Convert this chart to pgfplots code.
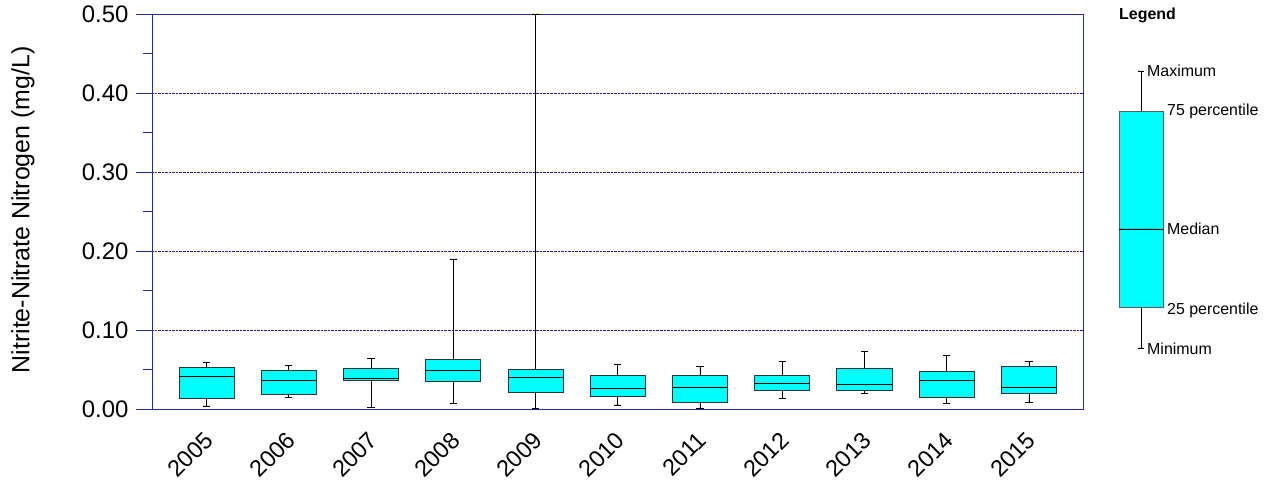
\documentclass[border=0pt]{standalone}
\usepackage{fontspec}
\setmainfont{Liberation Sans}
\usepackage{pgfplots}
\pgfplotsset{compat=1.18}
\usepgfplotslibrary{statistics}
\definecolor{axnavy}{RGB}{40,40,150}
\definecolor{gridnavy}{RGB}{30,30,140}
\definecolor{boxcyan}{RGB}{0,255,255}
\definecolor{boxedge}{RGB}{50,50,50}
\pgfplotsset{
  mybox/.style={draw=boxedge, fill=boxcyan, line width=0.9pt, solid},
}
\begin{document}
\begin{tikzpicture}
\useasboundingbox (0bp,0bp) rectangle (1275bp,481bp);
\begin{axis}[
  at={(152bp,72bp)}, anchor=south west,
  scale only axis, width=931bp, height=395bp,
  xmin=-0.663, xmax=10.657, ymin=0, ymax=0.5,
  axis line style={axnavy, line width=0.9pt},
  xtick={0,1,2,3,4,5,6,7,8,9,10},
  xticklabels={2005,2006,2007,2008,2009,2010,2011,2012,2013,2014,2015},
  major x tick style={draw=none},
  xtick pos=bottom, ytick pos=left,
  x tick label style={rotate=45, anchor=north east, font=\fontsize{23.5}{25}\selectfont, inner sep=0pt, xshift=-6bp, yshift=-1bp},
  ytick={0,0.1,0.2,0.3,0.4,0.5},
  minor ytick={0.05,0.15,0.25,0.35,0.45},
  tick align=outside,
  major tick length=16bp, minor tick length=9bp,
  every tick/.style={axnavy, line width=1pt},
  y tick label style={font=\fontsize{24}{26}\selectfont, xshift=-4bp},
  yticklabel style={/pgf/number format/.cd, fixed, fixed zerofill, precision=2, assume math mode=true},
  ymajorgrids, grid style={gridnavy, densely dotted, line width=0.7pt},
  ylabel={Nitrite-Nitrate Nitrogen (mg/L)},
  ylabel style={at={(axis description cs:-0.1386,0.504)}, anchor=center, font=\fontsize{25}{27}\selectfont},
  boxplot/draw direction=y,
  boxplot/box extend=0.67,
  boxplot/whisker extend=0.09,
  boxplot/every median/.style={black, line width=0.9pt},
  boxplot/every whisker/.style={black, line width=0.8pt},
]
\addplot[mybox, boxplot prepared={draw position=0, lower whisker=0.0038, lower quartile=0.0131, median=0.0415, upper quartile=0.0530, upper whisker=0.0593}] coordinates {};
\addplot[mybox, boxplot prepared={draw position=1, lower whisker=0.0144, lower quartile=0.0186, median=0.0364, upper quartile=0.0487, upper whisker=0.0555}] coordinates {};
\addplot[mybox, boxplot prepared={draw position=2, lower whisker=0.0025, lower quartile=0.0356, median=0.0390, upper quartile=0.0508, upper whisker=0.0635}] coordinates {};
\addplot[mybox, boxplot prepared={draw position=3, lower whisker=0.0072, lower quartile=0.0352, median=0.0487, upper quartile=0.0623, upper whisker=0.1900}] coordinates {};
\addplot[mybox, boxplot prepared={draw position=4, lower whisker=0.0004, lower quartile=0.0212, median=0.0394, upper quartile=0.0496, upper whisker=0.5000}] coordinates {};
\addplot[mybox, boxplot prepared={draw position=5, lower whisker=0.0051, lower quartile=0.0161, median=0.0258, upper quartile=0.0428, upper whisker=0.0568}] coordinates {};
\addplot[mybox, boxplot prepared={draw position=6, lower whisker=0.0004, lower quartile=0.0085, median=0.0267, upper quartile=0.0428, upper whisker=0.0542}] coordinates {};
\addplot[mybox, boxplot prepared={draw position=7, lower whisker=0.0131, lower quartile=0.0233, median=0.0326, upper quartile=0.0428, upper whisker=0.0601}] coordinates {};
\addplot[mybox, boxplot prepared={draw position=8, lower whisker=0.0199, lower quartile=0.0233, median=0.0313, upper quartile=0.0508, upper whisker=0.0724}] coordinates {};
\addplot[mybox, boxplot prepared={draw position=9, lower whisker=0.0072, lower quartile=0.0152, median=0.0364, upper quartile=0.0479, upper whisker=0.0682}] coordinates {};
\addplot[mybox, boxplot prepared={draw position=10, lower whisker=0.0085, lower quartile=0.0199, median=0.0270, upper quartile=0.0542, upper whisker=0.0601}] coordinates {};
\end{axis}
% legend schematic
\begin{axis}[
  at={(1119bp,0bp)}, anchor=south west,
  scale only axis, width=44bp, height=481bp,
  xmin=-0.5, xmax=0.5, ymin=0, ymax=4.81,
  hide axis, clip=false,
  boxplot/draw direction=y,
  boxplot/box extend=1,
  boxplot/whisker extend=0.14,
  boxplot/every median/.style={black, line width=0.8pt},
  boxplot/every whisker/.style={black, line width=0.8pt},
]
\addplot[draw=boxedge!80, fill=boxcyan, line width=0.9pt, boxplot prepared={draw position=0, lower whisker=1.33, lower quartile=1.74, median=2.52, upper quartile=3.70, upper whisker=4.10}] coordinates {};
\node[anchor=west, inner sep=0pt, font=\fontsize{16}{18}\selectfont\bfseries] at (axis cs:-0.5,4.66) {Legend};
\node[anchor=west, inner sep=0pt, font=\fontsize{16}{18}\selectfont] at (axis cs:0.136,4.10) {Maximum};
\node[anchor=west, inner sep=0pt, font=\fontsize{16}{18}\selectfont] at (axis cs:0.59,3.70) {75 percentile};
\node[anchor=west, inner sep=0pt, font=\fontsize{16}{18}\selectfont] at (axis cs:0.59,2.52) {Median};
\node[anchor=west, inner sep=0pt, font=\fontsize{16}{18}\selectfont] at (axis cs:0.59,1.71) {25 percentile};
\node[anchor=west, inner sep=0pt, font=\fontsize{16}{18}\selectfont] at (axis cs:0.136,1.32) {Minimum};
\end{axis}
\end{tikzpicture}
\end{document}
